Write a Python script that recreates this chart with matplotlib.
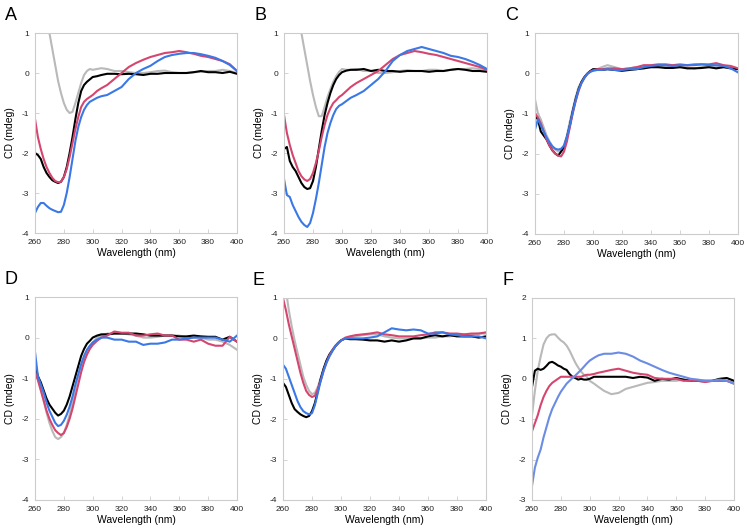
import matplotlib
matplotlib.use("Agg")
import matplotlib.pyplot as plt

plt.rcParams["font.family"] = ["Liberation Sans", "DejaVu Sans"]
plt.rcParams["axes.unicode_minus"] = False

WL = [260, 262, 264, 266, 268, 270, 272, 274, 276, 278, 280, 282, 284, 286, 288,
      290, 292, 294, 296, 298, 300, 303, 306, 310, 315, 320, 325, 330, 335, 340,
      345, 350, 355, 360, 365, 370, 375, 380, 385, 390, 395, 400]

# panel A
a_gray = [3.0, 2.5, 2.0, 1.6, 1.3, 1.0, 0.6, 0.2, -0.2, -0.5, -0.75, -0.92, -1.0, -0.97, -0.75,
          -0.5, -0.25, -0.05, 0.05, 0.1, 0.08, 0.1, 0.12, 0.1, 0.05, 0.05, 0.02, 0.0, 0.0, 0.02,
          0.05, 0.06, 0.02, 0.0, 0.0, 0.02, 0.03, 0.05, 0.05, 0.08, 0.05, 0.0]
a_black = [-2.0, -2.05, -2.15, -2.35, -2.5, -2.6, -2.68, -2.72, -2.75, -2.72, -2.6, -2.35, -2.0, -1.6, -1.15,
           -0.75, -0.45, -0.3, -0.22, -0.16, -0.1, -0.08, -0.05, -0.02, -0.02, -0.03, -0.02, -0.03, -0.05, -0.02,
           -0.02, 0.0, 0.0, 0.0, 0.0, 0.02, 0.05, 0.02, 0.02, 0.0, 0.03, -0.02]
a_pink = [-1.15, -1.6, -1.9, -2.15, -2.35, -2.5, -2.62, -2.7, -2.73, -2.72, -2.6, -2.4, -2.1, -1.75, -1.4,
          -1.1, -0.85, -0.72, -0.65, -0.6, -0.55, -0.45, -0.38, -0.3, -0.15, 0.0, 0.15, 0.25, 0.33, 0.4,
          0.45, 0.5, 0.52, 0.55, 0.52, 0.48, 0.43, 0.4, 0.35, 0.3, 0.22, 0.05]
a_blue = [-3.5, -3.35, -3.25, -3.25, -3.32, -3.38, -3.42, -3.45, -3.48, -3.47, -3.3, -3.0, -2.6, -2.15, -1.7,
          -1.35, -1.1, -0.92, -0.8, -0.72, -0.68, -0.62, -0.58, -0.55, -0.45, -0.35, -0.15, 0.0, 0.1, 0.18,
          0.3, 0.4, 0.45, 0.48, 0.5, 0.5, 0.47, 0.43, 0.38, 0.3, 0.2, 0.05]

# panel B
b_gray = [3.5, 3.0, 2.6, 2.1, 1.7, 1.35, 1.0, 0.6, 0.2, -0.2, -0.55, -0.85, -1.08, -1.08, -0.85,
          -0.6, -0.4, -0.22, -0.08, 0.03, 0.1, 0.08, 0.08, 0.1, 0.05, 0.05, 0.0, 0.0, 0.02, 0.05,
          0.07, 0.05, 0.05, 0.08, 0.08, 0.05, 0.08, 0.1, 0.1, 0.12, 0.1, 0.05]
b_black = [-1.9, -1.85, -2.2, -2.35, -2.45, -2.6, -2.75, -2.85, -2.9, -2.88, -2.7, -2.35, -1.9, -1.45, -1.05,
           -0.75, -0.5, -0.3, -0.15, -0.05, 0.02, 0.06, 0.08, 0.08, 0.1, 0.05, 0.08, 0.05, 0.05, 0.03,
           0.05, 0.05, 0.05, 0.03, 0.05, 0.05, 0.08, 0.1, 0.08, 0.05, 0.05, 0.03]
b_pink = [-1.05, -1.5, -1.8, -2.05, -2.25, -2.45, -2.58, -2.66, -2.7, -2.65, -2.5, -2.25, -1.95, -1.6, -1.3,
          -1.05, -0.88, -0.75, -0.68, -0.6, -0.55, -0.45, -0.35, -0.25, -0.15, -0.05, 0.05, 0.2, 0.35, 0.45,
          0.5, 0.55, 0.52, 0.48, 0.45, 0.4, 0.35, 0.3, 0.25, 0.2, 0.15, 0.08]
b_blue = [-2.65, -3.05, -3.1, -3.3, -3.45, -3.6, -3.72, -3.8, -3.85, -3.75, -3.5, -3.15, -2.75, -2.3, -1.85,
          -1.5, -1.25, -1.05, -0.9, -0.82, -0.78, -0.7, -0.62, -0.55, -0.45, -0.3, -0.15, 0.05, 0.3, 0.45,
          0.55, 0.6, 0.65, 0.6, 0.55, 0.5, 0.43, 0.4, 0.35, 0.28, 0.2, 0.1]

# panel C
c_gray = [-0.65, -1.0, -1.15, -1.35, -1.55, -1.7, -1.82, -1.9, -1.95, -1.92, -1.8, -1.55, -1.2, -0.9, -0.6,
          -0.35, -0.22, -0.1, 0.0, 0.05, 0.08, 0.1, 0.15, 0.2, 0.15, 0.1, 0.12, 0.15, 0.15, 0.15,
          0.15, 0.17, 0.15, 0.15, 0.15, 0.12, 0.15, 0.15, 0.15, 0.15, 0.15, 0.12]
c_black = [-1.05, -1.15, -1.45, -1.55, -1.65, -1.8, -1.92, -2.0, -2.05, -1.95, -1.85, -1.6, -1.3, -0.95, -0.65,
           -0.4, -0.22, -0.1, -0.02, 0.05, 0.1, 0.1, 0.08, 0.1, 0.08, 0.06, 0.08, 0.1, 0.12, 0.15,
           0.15, 0.13, 0.13, 0.15, 0.12, 0.12, 0.13, 0.15, 0.12, 0.15, 0.12, 0.1]
c_pink = [-1.0, -1.1, -1.25, -1.45, -1.65, -1.8, -1.92, -2.0, -2.05, -2.07, -1.95, -1.7, -1.35, -1.0, -0.7,
          -0.45, -0.25, -0.12, -0.02, 0.04, 0.07, 0.1, 0.1, 0.12, 0.12, 0.1, 0.12, 0.15, 0.2, 0.2,
          0.22, 0.22, 0.2, 0.22, 0.2, 0.2, 0.22, 0.22, 0.25, 0.2, 0.18, 0.12]
c_blue = [-1.4, -1.15, -1.3, -1.45, -1.6, -1.72, -1.82, -1.88, -1.9, -1.88, -1.8, -1.58, -1.3, -0.98, -0.68,
          -0.42, -0.25, -0.12, -0.02, 0.03, 0.06, 0.08, 0.08, 0.1, 0.08, 0.08, 0.1, 0.1, 0.15, 0.18,
          0.2, 0.2, 0.18, 0.2, 0.2, 0.22, 0.22, 0.2, 0.2, 0.18, 0.12, 0.02]

# panel D
d_gray = [-0.6, -0.95, -1.25, -1.55, -1.85, -2.1, -2.3, -2.45, -2.5, -2.45, -2.35, -2.15, -1.9, -1.6, -1.25,
          -0.95, -0.7, -0.5, -0.35, -0.22, -0.12, 0.0, 0.05, 0.1, 0.1, 0.1, 0.08, 0.05, 0.0, 0.0,
          0.02, 0.05, 0.05, 0.05, 0.0, 0.0, 0.0, -0.05, -0.05, -0.1, -0.18, -0.3]
d_black = [-0.7, -0.95, -1.1, -1.3, -1.5, -1.65, -1.75, -1.85, -1.92, -1.88, -1.8, -1.65, -1.45, -1.2, -0.95,
           -0.7, -0.45, -0.28, -0.15, -0.08, 0.0, 0.05, 0.08, 0.08, 0.1, 0.1, 0.1, 0.1, 0.08, 0.05,
           0.05, 0.05, 0.05, 0.03, 0.03, 0.05, 0.03, 0.02, 0.02, -0.05, 0.02, -0.1]
d_pink = [-0.85, -1.05, -1.3, -1.55, -1.8, -2.0, -2.15, -2.28, -2.35, -2.4, -2.35, -2.2, -2.0, -1.75, -1.45,
          -1.15, -0.85, -0.6, -0.42, -0.28, -0.18, -0.08, 0.0, 0.05, 0.15, 0.12, 0.12, 0.05, 0.05, 0.08,
          0.1, 0.05, 0.05, -0.05, -0.05, -0.1, -0.05, -0.15, -0.2, -0.2, 0.02, -0.1]
d_blue = [-0.35, -0.95, -1.15, -1.35, -1.6, -1.8, -1.95, -2.1, -2.18, -2.15, -2.05, -1.9, -1.7, -1.45, -1.15,
          -0.9, -0.65, -0.45, -0.3, -0.2, -0.12, -0.05, 0.0, 0.0, -0.05, -0.05, -0.1, -0.1, -0.18, -0.15,
          -0.15, -0.12, -0.05, -0.05, -0.02, 0.0, 0.0, 0.0, 0.0, -0.05, -0.1, 0.05]

# panel E
e_gray = [1.8, 1.2, 0.7, 0.3, -0.05, -0.35, -0.65, -0.95, -1.15, -1.3, -1.38, -1.35, -1.2, -0.98, -0.75,
          -0.55, -0.4, -0.28, -0.18, -0.1, -0.05, 0.0, 0.02, 0.05, 0.08, 0.1, 0.1, 0.05, 0.02, 0.0,
          0.0, 0.0, 0.0, 0.02, 0.02, 0.05, 0.05, 0.08, 0.1, 0.1, 0.12, 0.12]
e_black = [-1.1, -1.2, -1.4, -1.6, -1.75, -1.82, -1.88, -1.92, -1.95, -1.92, -1.8, -1.6, -1.3, -1.0, -0.75,
           -0.55, -0.4, -0.3, -0.2, -0.12, -0.05, 0.0, -0.02, -0.02, -0.03, -0.05, -0.05, -0.08, -0.05, -0.08,
           -0.05, 0.0, 0.0, 0.05, 0.08, 0.05, 0.08, 0.05, 0.05, 0.05, 0.02, 0.05]
e_pink = [1.0, 0.7, 0.35, 0.05, -0.25, -0.55, -0.85, -1.1, -1.3, -1.4, -1.45, -1.42, -1.25, -1.05, -0.8,
          -0.6, -0.42, -0.3, -0.2, -0.12, -0.05, 0.02, 0.05, 0.08, 0.1, 0.12, 0.15, 0.1, 0.08, 0.05,
          0.05, 0.05, 0.08, 0.1, 0.15, 0.15, 0.12, 0.12, 0.1, 0.12, 0.12, 0.15]
e_blue = [-0.65, -0.75, -0.95, -1.15, -1.35, -1.55, -1.7, -1.8, -1.85, -1.88, -1.85, -1.65, -1.35, -1.05, -0.8,
          -0.6, -0.45, -0.32, -0.2, -0.12, -0.05, 0.0, 0.0, 0.0, 0.0, 0.02, 0.05, 0.15, 0.25, 0.22,
          0.2, 0.22, 0.2, 0.12, 0.12, 0.15, 0.1, 0.08, 0.05, 0.05, 0.05, 0.0]

# panel F
f_gray = [-0.9, -0.3, 0.2, 0.55, 0.85, 1.0, 1.08, 1.1, 1.1, 1.02, 0.95, 0.9, 0.82, 0.7, 0.55,
          0.4, 0.28, 0.18, 0.1, 0.05, -0.05, -0.12, -0.2, -0.3, -0.38, -0.35, -0.25, -0.2, -0.15, -0.1,
          -0.08, -0.05, -0.05, -0.05, -0.02, -0.05, -0.05, -0.08, -0.05, -0.05, -0.05, -0.1]
f_black = [-0.2, 0.2, 0.25, 0.22, 0.25, 0.32, 0.4, 0.42, 0.38, 0.33, 0.3, 0.25, 0.22, 0.12, 0.05,
           0.02, -0.02, 0.0, -0.02, -0.02, 0.0, 0.05, 0.05, 0.05, 0.05, 0.05, 0.05, 0.02, 0.05, 0.03,
           -0.05, 0.0, -0.02, 0.02, -0.02, -0.05, -0.05, -0.05, -0.05, 0.0, 0.02, -0.05]
f_pink = [-1.3, -1.1, -0.9, -0.65, -0.45, -0.3, -0.18, -0.1, -0.05, 0.0, 0.05, 0.05, 0.05, 0.05, 0.05,
          0.05, 0.05, 0.05, 0.08, 0.1, 0.1, 0.12, 0.15, 0.18, 0.22, 0.25, 0.2, 0.15, 0.12, 0.1,
          0.02, 0.0, 0.0, 0.0, -0.05, -0.05, -0.05, -0.08, -0.05, -0.05, -0.05, -0.12]
f_blue = [-2.65, -2.2, -1.95, -1.75, -1.45, -1.2, -0.95, -0.75, -0.6, -0.45, -0.32, -0.22, -0.12, -0.05, 0.02,
          0.08, 0.15, 0.22, 0.3, 0.38, 0.45, 0.52, 0.58, 0.62, 0.62, 0.65, 0.62, 0.55, 0.45, 0.38,
          0.3, 0.22, 0.15, 0.1, 0.05, 0.0, -0.02, -0.05, -0.05, -0.02, -0.05, -0.12]

GRAY = "#b9b9b9"
BLACK = "#000000"
PINK = "#d4466f"
BLUE = "#3a78e6"
BLUE_F = "#6a8ce4"

panels = [
    ("A", (35, 33, 202, 200), (-4, 1), [a_gray, a_black, a_pink, a_blue], BLUE),
    ("B", (284, 33, 203, 200), (-4, 1), [b_gray, b_black, b_pink, b_blue], BLUE),
    ("C", (535, 33, 203, 201), (-4, 1), [c_gray, c_black, c_pink, c_blue], BLUE),
    ("D", (35, 297, 202, 203), (-4, 1), [d_gray, d_black, d_pink, d_blue], BLUE),
    ("E", (283, 298, 203, 202), (-4, 1), [e_gray, e_black, e_pink, e_blue], BLUE),
    ("F", (532, 298, 202, 202), (-3, 2), [f_gray, f_black, f_pink, f_blue], BLUE_F),
]

W, H = 747, 530
fig = plt.figure(figsize=(W / 100, H / 100), dpi=100)
fig.patch.set_facecolor("white")

for letter, (x0, y0, w, h), ylim, series, blue in panels:
    ax = fig.add_axes([x0 / W, 1 - (y0 + h) / H, w / W, h / H])
    colors = [GRAY, BLACK, PINK, blue]
    for vals, col in zip(series, colors):
        ax.plot(WL, vals, color=col, lw=1.5)
    ax.set_xlim(260, 400)
    ax.set_ylim(*ylim)
    ax.set_xticks(range(260, 401, 20))
    ax.set_yticks(range(ylim[0], ylim[1] + 1))
    for sp in ax.spines.values():
        sp.set_color("#cccccc")
        sp.set_linewidth(0.8)
    ax.tick_params(direction="in", length=3, width=0.6, color="#cccccc", labelsize=6,
                   labelcolor="#222222", pad=4)
    ax.set_xlabel("Wavelength (nm)", fontsize=7.5, labelpad=2)
    ax.set_ylabel("CD (mdeg)", fontsize=7.5, labelpad=5)
    fig.text((x0 - 30) / W, 1 - (y0 - 13) / H, letter, fontsize=13, va="baseline", ha="left")

fig.savefig("out.png", dpi=100)
